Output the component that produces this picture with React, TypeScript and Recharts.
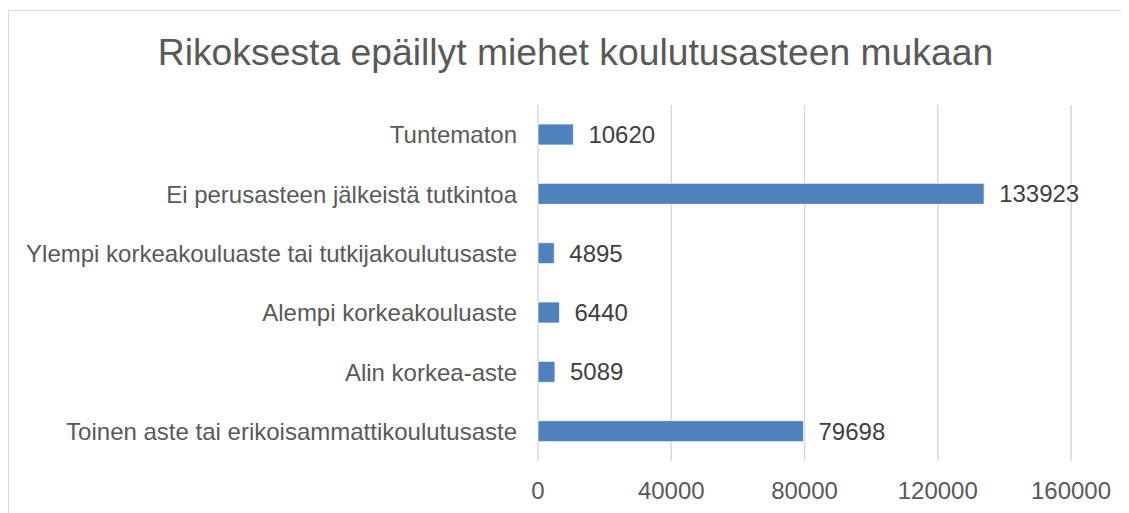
import { BarChart, Bar, XAxis, YAxis, CartesianGrid, LabelList } from "recharts";

const categories = [
  "Tuntematon",
  "Ei perusasteen jälkeistä tutkintoa",
  "Ylempi korkeakouluaste tai tutkijakoulutusaste",
  "Alempi korkeakouluaste",
  "Alin korkea-aste",
  "Toinen aste tai erikoisammattikoulutusaste",
];
const suspects = [10620, 133923, 4895, 6440, 5089, 79698];
const xTicks = [0, 40000, 80000, 120000, 160000];

const title = "Rikoksesta epäillyt miehet koulutusasteen mukaan";
const font = '"Liberation Sans", Arial, sans-serif';

const data = categories.map((name, i) => ({ name, value: suspects[i] }));

export default function App() {
  return (
    <div
      style={{
        position: "relative",
        marginTop: 2,
        width: 1120,
        height: 502,
        borderLeft: "1px solid #d9d9d9",
        borderTop: "1px solid #d9d9d9",
        background: "#fff",
        fontFamily: font,
      }}
    >
      <div
        style={{
          position: "absolute",
          left: 0,
          top: 23,
          width: 1133,
          textAlign: "center",
          fontSize: 37.3,
          lineHeight: "37px",
          color: "#595959",
          whiteSpace: "nowrap",
        }}
      >
        {title}
      </div>
      <BarChart
        width={1120}
        height={502}
        data={data}
        layout="vertical"
        margin={{ top: 94, right: 58, bottom: 12, left: 9 }}
        barSize={21}
      >
        <CartesianGrid horizontal={false} stroke="#d9d9d9" strokeWidth={1.5} />
        <XAxis
          type="number"
          domain={[0, 160000]}
          ticks={xTicks}
          height={40}
          axisLine={false}
          tickLine={false}
          tickSize={0}
          tickMargin={21}
          tick={{ fill: "#595959", fontSize: 24, fontFamily: font }}
          interval={0}
        />
        <YAxis
          type="category"
          dataKey="name"
          width={520}
          axisLine={false}
          tickLine={false}
          tickSize={0}
          tickMargin={21}
          tick={{ fill: "#595959", fontSize: 24, fontFamily: font }}
          interval={0}
        />
        <Bar dataKey="value" fill="#4f81bd" stroke="#ffffff" strokeWidth={0.75} isAnimationActive={false}>
          <LabelList
            dataKey="value"
            position="right"
            offset={15}
            fill="#404040"
            fontSize={24}
            fontFamily={font}
          />
        </Bar>
      </BarChart>
    </div>
  );
}
